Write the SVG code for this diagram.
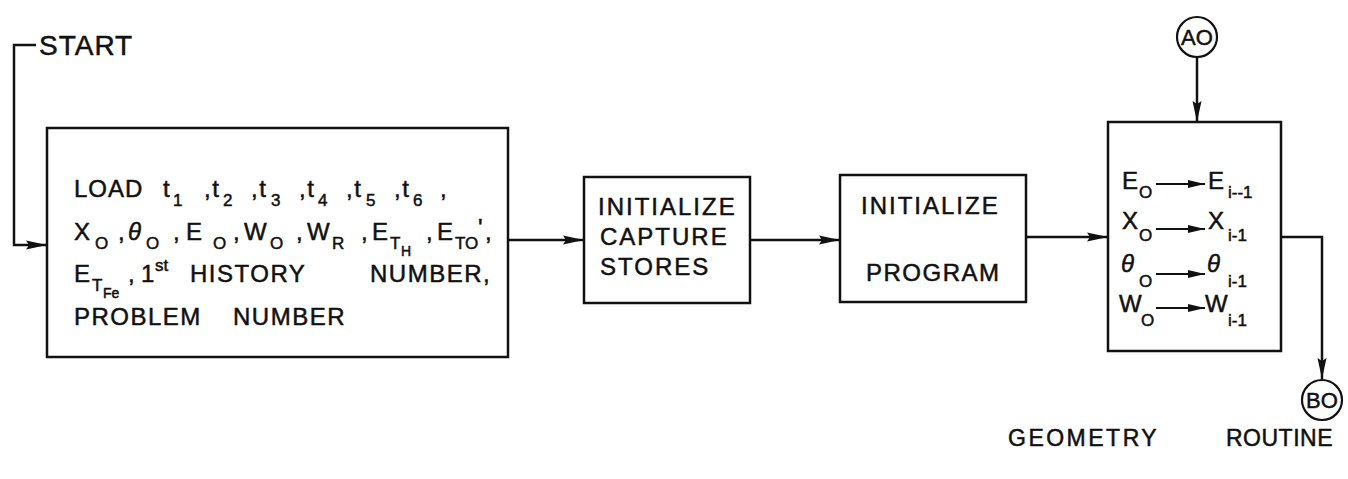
<svg xmlns="http://www.w3.org/2000/svg" width="1348" height="479" viewBox="0 0 1348 479">
  <style>
    text { font-family: "Liberation Sans", Arial, sans-serif; fill: #111; stroke: #111; stroke-width: 0.5px; }
    .t { font-size: 24px; letter-spacing: 1.5px; }
    .s { font-size: 17px; letter-spacing: 0; }
    .ss { font-size: 14px; letter-spacing: 0; }
    .big { font-size: 28px; letter-spacing: 1px; }
    .box { fill: #fff; stroke: #111; stroke-width: 2.5; }
    .wire { fill: none; stroke: #111; stroke-width: 2.2; }
    .conn { fill: none; stroke: #111; stroke-width: 2.5; }
  </style>
  <defs>
    <marker id="arrow" markerUnits="userSpaceOnUse" markerWidth="22" markerHeight="12" refX="21" refY="6" orient="auto">
      <path d="M0,1.5 L21,6 L0,10.5 L3,6 Z" fill="#111"/>
    </marker>
    <marker id="arrowSmall" markerUnits="userSpaceOnUse" markerWidth="18" markerHeight="10" refX="17" refY="5" orient="auto">
      <path d="M0,1 L17,5 L0,9 Z" fill="#111"/>
    </marker>
  </defs>
  <rect width="1348" height="479" fill="#fff"/>

  <!-- flow connectors -->
  <g id="connectors">
    <path class="conn" d="M36,45 H14 V245 H47" marker-end="url(#arrow)"/>
    <path class="conn" d="M508,240 H584" marker-end="url(#arrow)"/>
    <path class="conn" d="M750,240 H840" marker-end="url(#arrow)"/>
    <path class="conn" d="M1026,237 H1108" marker-end="url(#arrow)"/>
    <path class="conn" d="M1197,58 V122" marker-end="url(#arrow)"/>
    <path class="conn" d="M1281,237 H1322 V379" marker-end="url(#arrow)"/>
  </g>

  <g id="start">
    <text class="big" x="39" y="55">START</text>
  </g>

  <!-- input loading block -->
  <g id="load">
    <rect class="box" x="47" y="128" width="461" height="229"/>
    <text class="t" x="74" y="197" style="letter-spacing:1px">LOAD</text>
    <text class="t" x="163" y="197">t</text><text class="s" x="173" y="206">1</text>
    <text class="t" x="204" y="197">,t</text><text class="s" x="223" y="206">2</text>
    <text class="t" x="251" y="197">,t</text><text class="s" x="271" y="206">3</text>
    <text class="t" x="299" y="197">,t</text><text class="s" x="318" y="206">4</text>
    <text class="t" x="346" y="197">,t</text><text class="s" x="366" y="206">5</text>
    <text class="t" x="394" y="197">,t</text><text class="s" x="413" y="206">6</text>
    <text class="t" x="440" y="197">,</text>

    <text class="t" x="74" y="240">X</text><text class="s" x="95" y="249">O</text>
    <text class="t" x="118" y="240">,</text><text class="t" x="128" y="240" font-style="italic">θ</text><text class="s" x="146" y="249">O</text>
    <text class="t" x="173" y="240">,</text><text class="t" x="186" y="240">E</text><text class="s" x="213" y="249">O</text>
    <text class="t" x="233" y="240">,</text><text class="t" x="244" y="240">W</text><text class="s" x="270" y="249">O</text>
    <text class="t" x="296" y="240">,</text><text class="t" x="307" y="240">W</text><text class="s" x="332" y="249">R</text>
    <text class="t" x="361" y="240">,</text><text class="t" x="372" y="240">E</text><text class="s" x="390" y="249">T</text><text class="ss" x="401" y="256">H</text>
    <text class="t" x="426" y="240">,</text><text class="t" x="437" y="240">E</text><text class="s" x="455" y="249">TO</text><text class="t" x="478" y="236">'</text><text class="t" x="485" y="240">,</text>

    <text class="t" x="74" y="282">E</text><text class="s" x="92" y="291">T</text><text class="ss" x="103" y="298">Fe</text>
    <text class="t" x="128" y="282">,</text><text class="t" x="141" y="282">1</text><text class="s" x="155" y="271">st</text>
    <text class="t" x="190" y="282">HISTORY</text>
    <text class="t" x="370" y="282">NUMBER,</text>

    <text class="t" x="74" y="325">PROBLEM</text>
    <text class="t" x="233" y="325">NUMBER</text>
  </g>

  <g id="init-capture">
    <rect class="box" x="584" y="177" width="166" height="126"/>
    <text class="t" x="598" y="215" style="letter-spacing:2px">INITIALIZE</text>
    <text class="t" x="600" y="245" style="letter-spacing:2px">CAPTURE</text>
    <text class="t" x="600" y="275" style="letter-spacing:2px">STORES</text>
  </g>

  <g id="init-program">
    <rect class="box" x="840" y="175" width="186" height="127"/>
    <text class="t" x="861" y="214" style="letter-spacing:2px">INITIALIZE</text>
    <text class="t" x="866" y="281">PROGRAM</text>
  </g>

  <!-- geometry routine block -->
  <g id="geometry">
    <rect class="box" x="1108" y="122" width="173" height="229"/>
    <text class="t" x="1122" y="189">E</text><text class="s" x="1139" y="198">O</text>
    <path class="wire" d="M1156,184 H1205" marker-end="url(#arrowSmall)"/>
    <text class="t" x="1208" y="189">E</text><text class="s" x="1228" y="198">i--1</text>

    <text class="t" x="1122" y="229">X</text><text class="s" x="1139" y="241">O</text>
    <path class="wire" d="M1156,229 H1205" marker-end="url(#arrowSmall)"/>
    <text class="t" x="1208" y="229">X</text><text class="s" x="1228" y="241">i-1</text>

    <text class="t" x="1121" y="272" font-style="italic">θ</text><text class="s" x="1139" y="287">O</text>
    <path class="wire" d="M1156,274 H1205" marker-end="url(#arrowSmall)"/>
    <text class="t" x="1207" y="272" font-style="italic">θ</text><text class="s" x="1228" y="287">i-1</text>

    <text class="t" x="1119" y="312">W</text><text class="s" x="1141" y="326">O</text>
    <path class="wire" d="M1156,308 H1205" marker-end="url(#arrowSmall)"/>
    <text class="t" x="1205" y="312">W</text><text class="s" x="1228" y="326">i-1</text>
  </g>

  <g id="connector-A">
    <circle cx="1197" cy="37" r="20" fill="#fff" stroke="#111" stroke-width="2.2"/>
    <text x="1197" y="45" text-anchor="middle" style="font-size:22px">AO</text>
  </g>

  <g id="connector-B">
    <circle cx="1322" cy="400" r="20" fill="#fff" stroke="#111" stroke-width="2.2"/>
    <text x="1322" y="408" text-anchor="middle" style="font-size:22px">BO</text>
  </g>

  <g id="caption">
    <text x="1008" y="446" style="font-size:23px;letter-spacing:2.5px">GEOMETRY</text>
    <text x="1226" y="446" style="font-size:23px;letter-spacing:0.5px">ROUTINE</text>
  </g>
</svg>
